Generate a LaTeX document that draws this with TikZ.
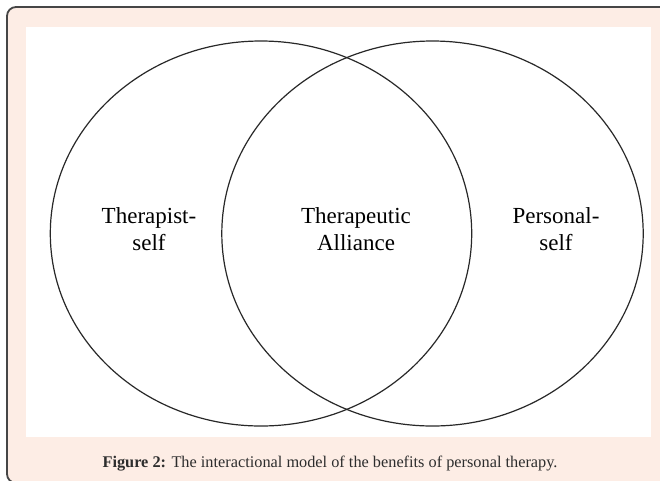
\documentclass[tikz,border=0pt]{standalone}
\usepackage{fontspec}
\setmainfont{Liberation Serif}
\newfontfamily\labelserif{Liberation Serif}
\definecolor{panelbg}{RGB}{253,237,229}
\definecolor{frameline}{RGB}{70,70,70}
\definecolor{inkline}{RGB}{40,40,40}
\definecolor{captionink}{RGB}{45,45,45}
\tikzset{
  setcircle/.style={draw=inkline, line width=1.2pt},
  setlabel/.style={align=center, font=\labelserif\fontsize{23}{27.5}\selectfont, text=black, inner sep=0pt, anchor=base},
  captiontext/.style={font=\labelserif\fontsize{16.3}{20}\selectfont, text=captionink, inner sep=0pt, anchor=base}
}
\begin{document}
\begin{tikzpicture}[x=1pt,y=-1pt]
  \useasboundingbox (0,0) rectangle (660,480);
  \clip (0,0) rectangle (660,480);
  % framed panel
  \draw[fill=panelbg, draw=frameline, line width=1.8pt, rounded corners=9pt] (7,7) rectangle (675,483);
  % white drawing area
  \fill[white] (26,27) rectangle (651,437);
  % the two overlapping sets
  \draw[setcircle] (261,233.5) ellipse [x radius=210.7, y radius=192.5];
  \draw[setcircle] (432.5,233.5) ellipse [x radius=210.7, y radius=192.5];
  % labels (anchored on the baseline of the second line)
  \node[setlabel] (therapist) at (149,250.5) {Therapist-\\self};
  \node[setlabel] (alliance) at (356,250.5) {Therapeutic\\Alliance};
  \node[setlabel] (personal) at (556,250.5) {Personal-\\self};
  % caption
  \node[captiontext] (caption) at (330,467) {\textbf{Figure 2:} The interactional model of the benefits of personal therapy.};
\end{tikzpicture}
\end{document}
